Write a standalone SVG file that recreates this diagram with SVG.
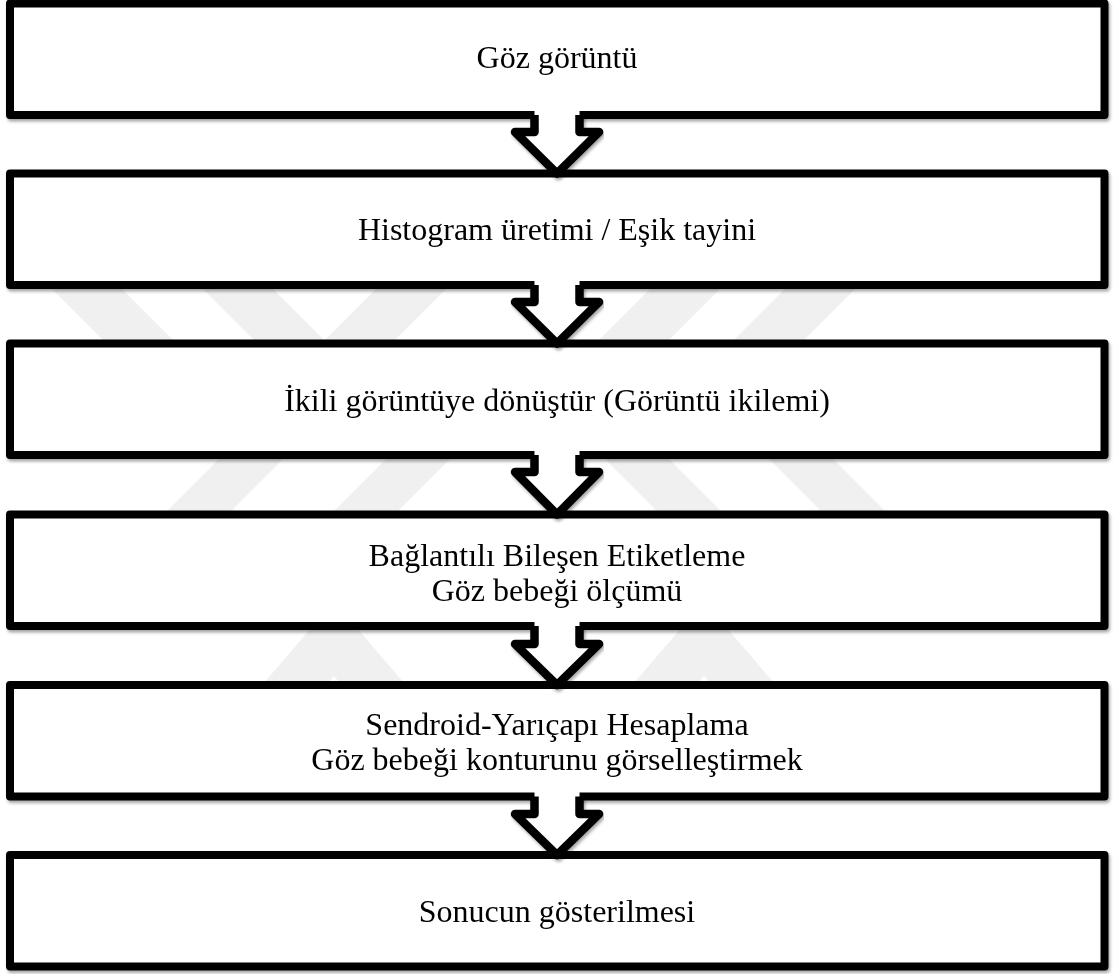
<svg xmlns="http://www.w3.org/2000/svg" width="1114" height="974" viewBox="0 0 1114 974">
  <defs>
    <filter id="shadow" x="-5%" y="-20%" width="110%" height="150%">
      <feDropShadow dx="1.5" dy="2.5" stdDeviation="1.6" flood-color="#000" flood-opacity="0.35"/>
    </filter>
    <style>
      .box { fill: #fff; stroke: #000; stroke-width: 8; stroke-linejoin: round; }
      .arrow-fill { fill: #fff; stroke: none; }
      .arrow-line { fill: none; stroke: #000; stroke-width: 8.5; stroke-linejoin: round; stroke-linecap: butt; }
      .label { font-family: "Liberation Serif", "Times New Roman", serif; font-size: 32px; fill: #000; text-anchor: middle; }
      .wm { fill: #f0f0f0; }
    </style>
  </defs>

  <rect width="1114" height="974" fill="#fff"/>

  <!-- faint background emblem -->
  <g id="watermark" class="wm">
    <polygon points="43,280 113,280 183,350 113,350"/>
    <polygon points="194,280 264,280 334,350 264,350"/>
    <polygon points="455,280 385,280 315,350 385,350"/>
    <polygon points="729,280 659,280 589,350 659,350"/>
    <polygon points="864,280 794,280 724,350 794,350"/>
    <polygon points="292,450 228,450 158,520 222,520"/>
    <polygon points="459,450 395,450 325,520 389,520"/>
    <polygon points="596,450 660,450 730,520 666,520"/>
    <polygon points="760,450 824,450 894,520 830,520"/>
    <polygon points="318,620 350,620 410,690 346,690 334,676 322,690 258,690"/>
    <polygon points="688,620 720,620 780,690 716,690 704,676 692,690 628,690"/>
  </g>

  <g id="node1" filter="url(#shadow)">
    <rect class="box" x="10" y="3.5" width="1094.5" height="111.5"/>
    <text class="label" x="557" y="68">Göz görüntü</text>
  </g>
  <g id="node2" filter="url(#shadow)">
    <rect class="box" x="10" y="173.5" width="1094.5" height="111.5"/>
    <text class="label" x="557" y="240">Histogram üretimi / Eşik tayini</text>
  </g>
  <g id="node3" filter="url(#shadow)">
    <rect class="box" x="10" y="343.5" width="1094.5" height="111.5"/>
    <text class="label" x="557" y="411">İkili görüntüye dönüştür (Görüntü ikilemi)</text>
  </g>
  <g id="node4" filter="url(#shadow)">
    <rect class="box" x="10" y="514.5" width="1094.5" height="111.5"/>
    <text class="label" x="557" y="566">Bağlantılı Bileşen Etiketleme</text>
    <text class="label" x="557" y="601">Göz bebeği ölçümü</text>
  </g>
  <g id="node5" filter="url(#shadow)">
    <rect class="box" x="10" y="685" width="1094.5" height="111.5"/>
    <text class="label" x="557" y="735">Sendroid-Yarıçapı Hesaplama</text>
    <text class="label" x="557" y="770">Göz bebeği konturunu görselleştirmek</text>
  </g>
  <g id="node6" filter="url(#shadow)">
    <rect class="box" x="10" y="855" width="1094.5" height="111.5"/>
    <text class="label" x="557" y="922">Sonucun gösterilmesi</text>
  </g>

  <!-- block arrows between consecutive steps -->
  <g id="connectors">
    <g filter="url(#shadow)">
      <polygon class="arrow-fill" points="534.5,110.5 579.5,110.5 579.5,132 599,132 557,173.5 515,132 534.5,132"/>
      <path class="arrow-line" d="M534.5,115 V132 H515 L557,173.5 L599,132 H579.5 V115"/>
    </g>
    <g filter="url(#shadow)">
      <polygon class="arrow-fill" points="534.5,280.5 579.5,280.5 579.5,302 599,302 557,343.5 515,302 534.5,302"/>
      <path class="arrow-line" d="M534.5,285 V302 H515 L557,343.5 L599,302 H579.5 V285"/>
    </g>
    <g filter="url(#shadow)">
      <polygon class="arrow-fill" points="534.5,450.5 579.5,450.5 579.5,472 599,472 557,514.5 515,472 534.5,472"/>
      <path class="arrow-line" d="M534.5,455 V472 H515 L557,514.5 L599,472 H579.5 V455"/>
    </g>
    <g filter="url(#shadow)">
      <polygon class="arrow-fill" points="534.5,621.5 579.5,621.5 579.5,644 599,644 557,685 515,644 534.5,644"/>
      <path class="arrow-line" d="M534.5,626 V644 H515 L557,685 L599,644 H579.5 V626"/>
    </g>
    <g filter="url(#shadow)">
      <polygon class="arrow-fill" points="534.5,792 579.5,792 579.5,814 599,814 557,855 515,814 534.5,814"/>
      <path class="arrow-line" d="M534.5,796.5 V814 H515 L557,855 L599,814 H579.5 V796.5"/>
    </g>
  </g>
</svg>
